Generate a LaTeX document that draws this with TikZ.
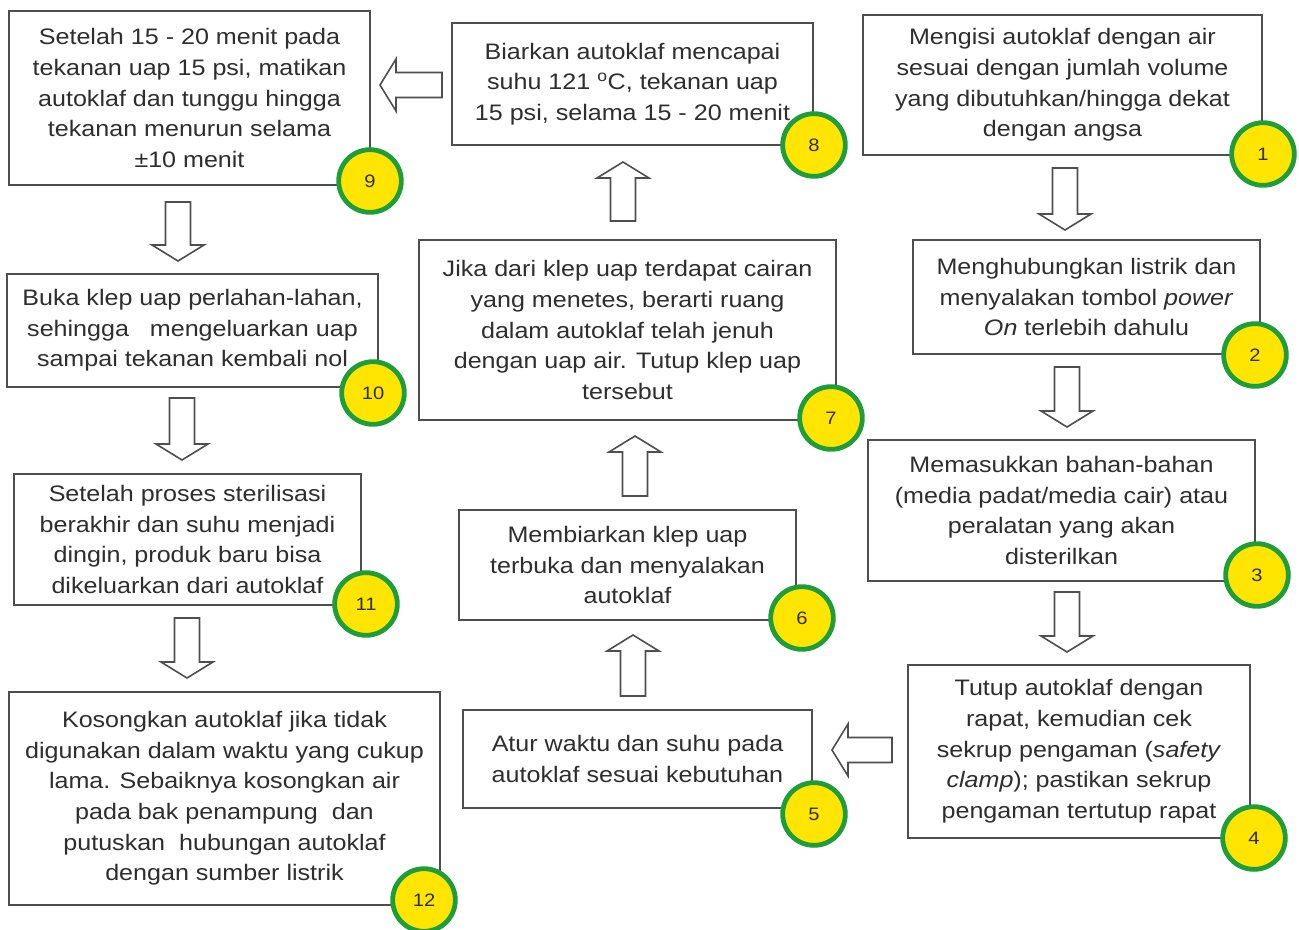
\documentclass[tikz,border=0pt]{standalone}
\usepackage{fontspec}
\newfontfamily\boxfont{Liberation Sans}[FakeStretch=1.12]
\definecolor{txtgray}{HTML}{2E2E2E}
\definecolor{boxgray}{HTML}{4E4E4E}
\definecolor{circyellow}{HTML}{FFE500}
\definecolor{circgreen}{HTML}{1E9E3A}
\begin{document}
\begin{tikzpicture}[x=0.75pt,y=-0.75pt,
  stepbox/.style={draw=boxgray,line width=1.5pt,fill=white,align=center,inner sep=0pt,
    text=txtgray,font=\boxfont\fontsize{16.8}{23}\selectfont},
  numcirc/.style={circle,draw=circgreen,line width=3.6pt,fill=circyellow,minimum size=47pt,
    inner sep=0pt,text=txtgray,font=\boxfont\fontsize{13.5}{14}\selectfont},
  arrowline/.style={draw=boxgray,line width=1.2pt,fill=white,line join=miter},
  pics/barrow/.style={code={\draw[arrowline] (0,-12.5) -- ({#1-16},-12.5) -- ({#1-16},-26) -- (#1,0) -- ({#1-16},26) -- ({#1-16},12.5) -- (0,12.5) -- cycle;}}]
\useasboundingbox[fill=white] (0,0) rectangle (1299,929);

% boxes
\node[stepbox,minimum width=270.75pt,minimum height=130.5pt] (b9) at (189.5,98)
  {Setelah 15 - 20 menit pada\\tekanan uap 15 psi, matikan\\autoklaf dan tunggu hingga\\tekanan menurun selama\\±10 menit};
\node[stepbox,minimum width=270.75pt,minimum height=91.5pt] (b8) at (632.5,84)
  {Biarkan autoklaf mencapai\\suhu 121 \textsuperscript{o}C, tekanan uap\\15 psi, selama 15 - 20 menit};
\node[stepbox,minimum width=299.25pt,minimum height=105pt] (b1) at (1062.5,85)
  {Mengisi autoklaf dengan air\\sesuai dengan jumlah volume\\yang dibutuhkan/hingga dekat\\dengan angsa};
\node[stepbox,minimum width=260.25pt,minimum height=85.5pt] (b2) at (1086.5,297)
  {Menghubungkan listrik dan\\menyalakan tombol \textit{power}\\\textit{On} terlebih dahulu};
\node[stepbox,minimum width=312.75pt,minimum height=135pt] (b7) at (627.5,330)
  {Jika dari klep uap terdapat cairan\\yang menetes, berarti ruang\\dalam autoklaf telah jenuh\\dengan uap air. Tutup klep uap\\tersebut};
\node[stepbox,minimum width=278.25pt,minimum height=84.75pt] (b10) at (192.5,330.5)
  {Buka klep uap perlahan-lahan,\\sehingga\ \ \ mengeluarkan uap\\sampai tekanan kembali nol};
\node[stepbox,minimum width=290.25pt,minimum height=105.75pt] (b3) at (1061.5,510.5)
  {Memasukkan bahan-bahan\\(media padat/media cair) atau\\peralatan yang akan\\disterilkan};
\node[stepbox,minimum width=252.75pt,minimum height=82.5pt] (b6) at (627.5,565)
  {Membiarkan klep uap\\terbuka dan menyalakan\\autoklaf};
\node[stepbox,minimum width=260.25pt,minimum height=98.25pt] (b11) at (187.5,539.5)
  {Setelah proses sterilisasi\\berakhir dan suhu menjadi\\dingin, produk baru bisa\\dikeluarkan dari autoklaf};
\node[stepbox,minimum width=256.5pt,minimum height=129.75pt] (b4) at (1079,751.5)
  {Tutup autoklaf dengan\\rapat, kemudian cek\\sekrup pengaman (\textit{safety}\\\textit{clamp}); pastikan sekrup\\pengaman tertutup rapat};
\node[stepbox,minimum width=261.75pt,minimum height=73.5pt] (b5) at (637.5,759)
  {Atur waktu dan suhu pada\\autoklaf sesuai kebutuhan};
\node[stepbox,minimum width=323.25pt,minimum height=159.75pt] (b12) at (224.5,798.5)
  {Kosongkan autoklaf jika tidak\\digunakan dalam waktu yang cukup\\lama. Sebaiknya kosongkan air\\pada bak penampung\ \ dan\\putuskan\ \ hubungan autoklaf\\dengan sumber listrik};

% number circles
\node[numcirc] (n1) at (1263,154) {1};
\node[numcirc] (n2) at (1255,355) {2};
\node[numcirc] (n3) at (1257,575) {3};
\node[numcirc] (n4) at (1254,838) {4};
\node[numcirc] (n5) at (814,814) {5};
\node[numcirc] (n6) at (802,618) {6};
\node[numcirc] (n7) at (831,418) {7};
\node[numcirc] (n8) at (814,145) {8};
\node[numcirc] (n9) at (370,181) {9};
\node[numcirc] (n10) at (373,393) {10};
\node[numcirc] (n11) at (366,604) {11};
\node[numcirc] (n12) at (424,900) {12};

% block arrows
\pic[rotate=-90] at (1065,168) {barrow=62};
\pic[rotate=-90] at (1067,367) {barrow=60};
\pic[rotate=-90] at (1067,592) {barrow=60};
\pic[rotate=180] at (892,750) {barrow=60};
\pic[rotate=90] at (633,696) {barrow=61};
\pic[rotate=90] at (635,496) {barrow=60};
\pic[rotate=90] at (623,221) {barrow=59};
\pic[rotate=180] at (442,85) {barrow=62};
\pic[rotate=-90] at (178,202) {barrow=59};
\pic[rotate=-90] at (182,398) {barrow=62};
\pic[rotate=-90] at (187,618) {barrow=60};
\end{tikzpicture}
\end{document}
